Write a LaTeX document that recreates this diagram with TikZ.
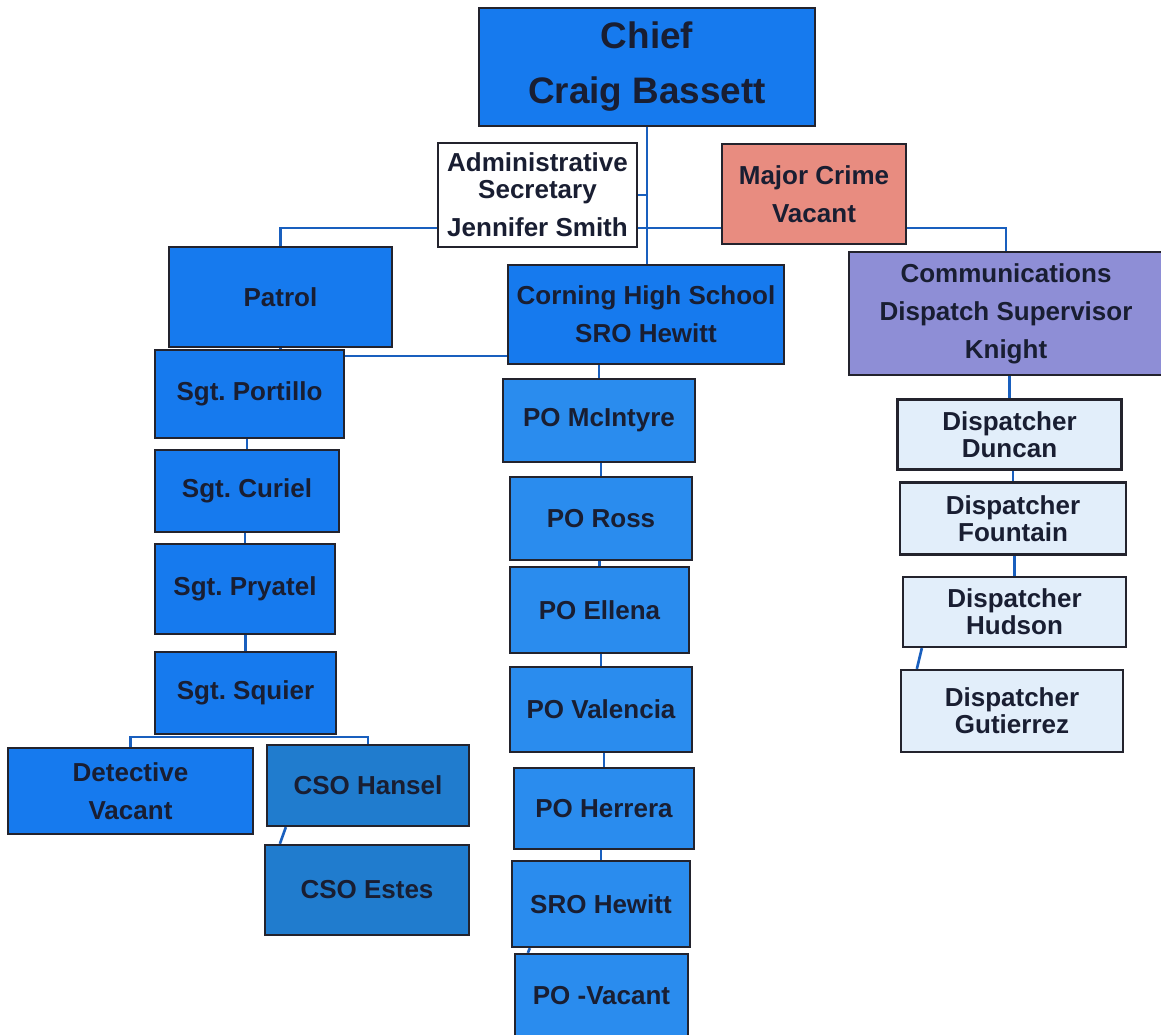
\documentclass[tikz,border=0pt]{standalone}
\usepackage{fontspec}
\setmainfont{Liberation Sans}
\usetikzlibrary{positioning,backgrounds}
\definecolor{boxblue}{RGB}{22,122,238}
\definecolor{poblue}{RGB}{42,140,238}
\definecolor{csoblue}{RGB}{32,124,206}
\definecolor{crimered}{RGB}{232,140,128}
\definecolor{commpurple}{RGB}{142,142,214}
\definecolor{dispblue}{RGB}{226,238,250}
\definecolor{linkblue}{RGB}{25,95,190}
\definecolor{edge}{RGB}{35,35,45}
\definecolor{ink}{RGB}{25,30,50}
\frenchspacing

\begin{document}
\begin{tikzpicture}[x=0.02cm,y=-0.02cm,
  box/.style={draw=edge,line width=1.3pt,fill=boxblue,text=ink,align=center,inner sep=0pt,font=\bfseries\fontsize{14.8}{21.6}\selectfont},
  wh/.style 2 args={minimum width=#1*0.02cm,minimum height=#2*0.02cm},
  po/.style={box,fill=poblue},
  cso/.style={box,fill=csoblue},
  disp/.style={box,fill=dispblue,font=\bfseries\fontsize{14.8}{15.4}\selectfont},
  link/.style={draw=linkblue,line width=1.5pt}]
\useasboundingbox (0,0) rectangle (1161,1035);
% top of the chart
\node[box,wh={336}{118},font=\bfseries\fontsize{21}{31.3}\selectfont] (chief) at (647,67) {Chief\\Craig Bassett};
\node[box,wh={199}{104},fill=white] (admin) at (537.5,195) {Administrative\\[-6.2pt]Secretary\\Jennifer Smith};
\node[box,wh={184}{100},fill=crimered] (crime) at (814,194) {Major Crime\\Vacant};
\node[box,wh={223}{100}] (patrol) at (280.5,297) {Patrol};
\node[box,wh={276}{99}] (corning) at (646,314.5) {Corning High School\\SRO Hewitt};
\node[box,wh={314}{123},fill=commpurple] (comm) at (1006,313.5) {Communications\\Dispatch Supervisor\\Knight};
% patrol column
\node[box,wh={189}{88}] (portillo) at (249.5,394) {Sgt. Portillo};
\node[box,wh={184}{82}] (curiel) at (247,491) {Sgt. Curiel};
\node[box,wh={180}{90}] (pryatel) at (245,589) {Sgt. Pryatel};
\node[box,wh={181}{82}] (squier) at (245.5,693) {Sgt. Squier};
\node[box,wh={245}{86}] (detective) at (130.5,791) {Detective\\Vacant};
\node[cso,wh={202}{81}] (hansel) at (368,785.5) {CSO Hansel};
\node[cso,wh={204}{90}] (estes) at (367,890) {CSO Estes};
% school column
\node[po,wh={192}{83}] (mcintyre) at (599,420.5) {PO McIntyre};
\node[po,wh={182}{83}] (ross) at (601,518.5) {PO Ross};
\node[po,wh={179}{86}] (ellena) at (599.5,610) {PO Ellena};
\node[po,wh={182}{85}] (valencia) at (601,709.5) {PO Valencia};
\node[po,wh={180}{81}] (herrera) at (604,808.5) {PO Herrera};
\node[po,wh={178}{86}] (hewitt) at (601,904) {SRO Hewitt};
\node[po,wh={173}{84}] (povacant) at (601.5,996) {PO -Vacant};
% dispatch column
\node[disp,wh={224}{70}] (duncan) at (1009.5,434.5) {Dispatcher\\Duncan};
\node[disp,wh={226}{72}] (fountain) at (1013,518.5) {Dispatcher\\Fountain};
\node[disp,wh={223}{70}] (hudson) at (1014.5,612) {Dispatcher\\Hudson};
\node[disp,wh={222}{82}] (gutierrez) at (1012,711) {Dispatcher\\Gutierrez};

\coordinate (bus) at (647,228);
\coordinate (link) at (508,356);
\coordinate (sqbus) at (245,737);
\begin{scope}[on background layer]
\draw[link] (chief.south) -- (chief.south |- corning.north);
\draw[link] (admin.east) -- (admin.east -| chief.south);
\draw[link] (patrol.north) |- (bus) -| (comm.north);
\draw[link] (patrol.south) -- (patrol.south |- portillo.north);
\draw[link] (link) -- (link -| portillo.east);
\draw[link] (mcintyre.north) -- (mcintyre.north |- corning.south);
\foreach \a/\b in {portillo/curiel,curiel/pryatel,pryatel/squier,mcintyre/ross,ross/ellena,ellena/valencia,valencia/herrera,herrera/hewitt}
  \draw[link] (\b.north) -- (\b.north |- \a.south);
\draw[link] (detective.north) |- (sqbus) -| (hansel.north);
\draw[link] ([xshift=0.4cm]hansel.south west) -- ([xshift=0.32cm]estes.north west);
\draw[link] ([xshift=0.38cm]hewitt.south west) -- ([xshift=0.28cm]povacant.north west);
\draw[link] (duncan.north) -- (duncan.north |- comm.south);
\draw[link] (fountain.north) -- (fountain.north |- duncan.south);
\draw[link] (hudson.north) -- (hudson.north |- fountain.south);
\draw[link] ([xshift=0.4cm]hudson.south west) -- ([xshift=0.34cm]gutierrez.north west);
\end{scope}
\end{tikzpicture}
\end{document}
